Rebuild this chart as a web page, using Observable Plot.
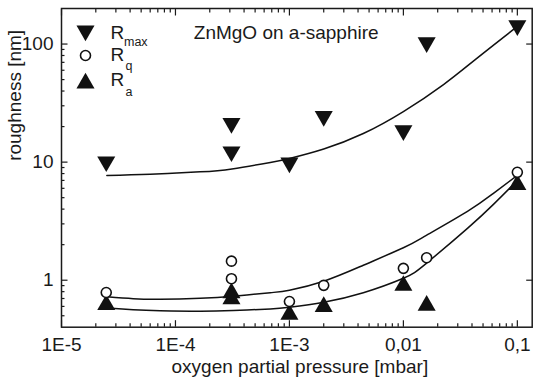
<!DOCTYPE html>
<html><head><meta charset="utf-8">
<script src="https://cdn.jsdelivr.net/npm/d3@7"></script>
<script src="https://cdn.jsdelivr.net/npm/@observablehq/plot@0.6"></script>
<style>body{margin:0;background:#fff}</style>
</head><body><div id="chart"></div>
<script>
// measured data (oxygen partial pressure in mbar, roughness in nm)
const pressure = [2.47e-5, 3.1e-4, 3.1e-4, 1e-3, 2e-3, 1e-2, 1.6e-2, 1e-1];
const rmax = [9.7, 20.5, 11.8, 9.5, 23.5, 17.8, 99, 138];
const rq   = [0.787, 1.45, 1.03, 0.66, 0.905, 1.26, 1.55, 8.2];
const ra   = [0.643, 0.81, 0.72, 0.533, 0.62, 0.937, 0.635, 6.7];

// fitted curves
const fitMaxP = [2.5e-5, 6.01e-5, 1.65e-4, 3.13e-4, 6.8e-4, 1e-3, 2e-3, 4.45e-3, 1e-2, 2.25e-2, 4.38e-2, 9.82e-2];
const fitMaxV = [7.72, 7.90, 8.27, 8.76, 9.94, 10.75, 12.93, 17.48, 26.83, 45.4, 75.3, 139];
const fitQP = [2.5e-5, 4.26e-5, 7.35e-5, 1.65e-4, 3.22e-4, 6.8e-4, 1e-3, 2e-3, 4.45e-3, 1e-2, 1.59e-2, 3.65e-2, 6.17e-2, 1e-1];
const fitQV = [0.723, 0.698, 0.691, 0.704, 0.732, 0.784, 0.823, 0.981, 1.339, 1.883, 2.40, 3.83, 5.44, 7.72];
const fitAP = [2.19e-5, 4.26e-5, 7.35e-5, 1.65e-4, 3.22e-4, 6.8e-4, 1e-3, 2e-3, 4.45e-3, 1e-2, 1.59e-2, 3.65e-2, 6.17e-2, 1e-1];
const fitAV = [0.588, 0.563, 0.552, 0.547, 0.554, 0.571, 0.591, 0.652, 0.784, 1.04, 1.39, 2.75, 4.39, 7.0];

// axis ticks
const xMajor = [1e-5, 1e-4, 1e-3, 1e-2, 1e-1];
const xLabels = ["1E-5", "1E-4", "1E-3", "0,01", "0,1"];
const xMinor = [];
for (const d of [1e-5, 1e-4, 1e-3, 1e-2]) for (let k = 2; k <= 9; k++) xMinor.push(k * d);
const yMajor = [1, 10, 100];
const yLabels = ["1", "10", "100"];
const yMinor = [0.5, 0.6, 0.7, 0.8, 0.9];
for (const d of [1, 10]) for (let k = 2; k <= 9; k++) yMinor.push(k * d);

const title = "ZnMgO on a-sapphire";
const xTitle = "oxygen partial pressure [mbar]";
const yTitle = "roughness [nm]";

const rows = pressure.map((p, i) => ({p, rmax: rmax[i], rq: rq[i], ra: ra[i]}));
const fit = (P, V) => P.map((p, i) => ({p, v: V[i]}));

const ink = "#111";
const txt = "#1a1a1a";
const triR = 6.7, triOff = 2.0, circR = 5;
const axisOpts = {label: null, strokeWidth: 1.2};
const lg = {frameAnchor: "top-left", textAnchor: "start", lineAnchor: "bottom", fill: txt};
const chart = Plot.plot({
  width: 533, height: 377,
  marginLeft: 61, marginRight: 1.3, marginTop: 8, marginBottom: 50.3,
  style: {fontFamily: "'Liberation Sans', Arial, Helvetica, sans-serif", fontSize: "19px", color: txt, background: "#fff", overflow: "visible"},
  x: {type: "log", domain: [1e-5, 0.135]},
  y: {type: "log", domain: [0.4, 200]},
  marks: [
    // ticks (inward)
    Plot.axisX({...axisOpts, anchor: "bottom", ticks: xMajor, tickSize: -6.5, tickFormat: () => ""}),
    Plot.axisX({...axisOpts, anchor: "bottom", ticks: xMinor, tickSize: -3.5, tickFormat: () => ""}),
    Plot.axisX({...axisOpts, anchor: "top", ticks: xMajor, tickSize: -6.5, tickFormat: () => ""}),
    Plot.axisX({...axisOpts, anchor: "top", ticks: xMinor, tickSize: -3.5, tickFormat: () => ""}),
    Plot.axisY({...axisOpts, anchor: "left", ticks: yMajor, tickSize: -6.5, tickFormat: () => ""}),
    Plot.axisY({...axisOpts, anchor: "left", ticks: yMinor, tickSize: -3.5, tickFormat: () => ""}),
    Plot.axisY({...axisOpts, anchor: "right", ticks: yMajor, tickSize: -6.5, tickFormat: () => ""}),
    // tick labels
    Plot.axisX({label: null, anchor: "bottom", ticks: xMajor, tickSize: 0, tickPadding: 10, tickFormat: d => xLabels[xMajor.indexOf(d)], fill: txt}),
    Plot.axisY({label: null, anchor: "left", ticks: yMajor, tickSize: 0, tickPadding: 8, tickFormat: d => yLabels[yMajor.indexOf(d)], fill: txt}),
    Plot.frame({stroke: txt, strokeWidth: 1.5}),
    // axis titles
    Plot.text([xTitle], {frameAnchor: "bottom", lineAnchor: "bottom", dx: 3, dy: 45.3, fill: txt}),
    Plot.text([yTitle], {frameAnchor: "left", lineAnchor: "middle", rotate: -90, dx: -47, dy: -7, fill: txt}),
    // fits
    Plot.line(fit(fitMaxP, fitMaxV), {x: "p", y: "v", curve: "natural", stroke: ink, strokeWidth: 1.5}),
    Plot.line(fit(fitQP, fitQV), {x: "p", y: "v", curve: "natural", stroke: ink, strokeWidth: 1.5}),
    Plot.line(fit(fitAP, fitAV), {x: "p", y: "v", curve: "natural", stroke: ink, strokeWidth: 1.5}),
    // data
    Plot.dot(rows, {x: "p", y: "ra", symbol: "triangle", r: triR, fill: ink, stroke: "none", dy: triOff}),
    Plot.dot(rows, {x: "p", y: "rq", symbol: "circle", r: circR, fill: "#fff", stroke: ink, strokeWidth: 1.6}),
    Plot.dot(rows, {x: "p", y: "rmax", symbol: "triangle", rotate: 180, r: triR, fill: ink, stroke: "none", dy: -triOff}),
    // title
    Plot.text([title], {...lg, dx: 132.3, dy: 30.3}),
    // legend
    Plot.dot([0], {frameAnchor: "top-left", dx: 24, dy: 24.3 - triOff, symbol: "triangle", rotate: 180, r: triR, fill: ink, stroke: "none"}),
    Plot.dot([0], {frameAnchor: "top-left", dx: 24, dy: 47, symbol: "circle", r: circR, fill: "#fff", stroke: ink, strokeWidth: 1.6}),
    Plot.dot([0], {frameAnchor: "top-left", dx: 24, dy: 72.7 + triOff, symbol: "triangle", r: triR, fill: ink, stroke: "none"}),
    Plot.text(["R"], {...lg, dx: 49, dy: 30.3}),
    Plot.text(["max"], {...lg, dx: 62.5, dy: 37, fontSize: 12.5}),
    Plot.text(["R"], {...lg, dx: 49, dy: 52.5}),
    Plot.text(["q"], {...lg, dx: 64, dy: 61.5, fontSize: 12.5}),
    Plot.text(["R"], {...lg, dx: 49, dy: 77}),
    Plot.text(["a"], {...lg, dx: 64, dy: 87, fontSize: 12.5})
  ]
});
document.getElementById("chart").appendChild(chart);
</script>
</body></html>
